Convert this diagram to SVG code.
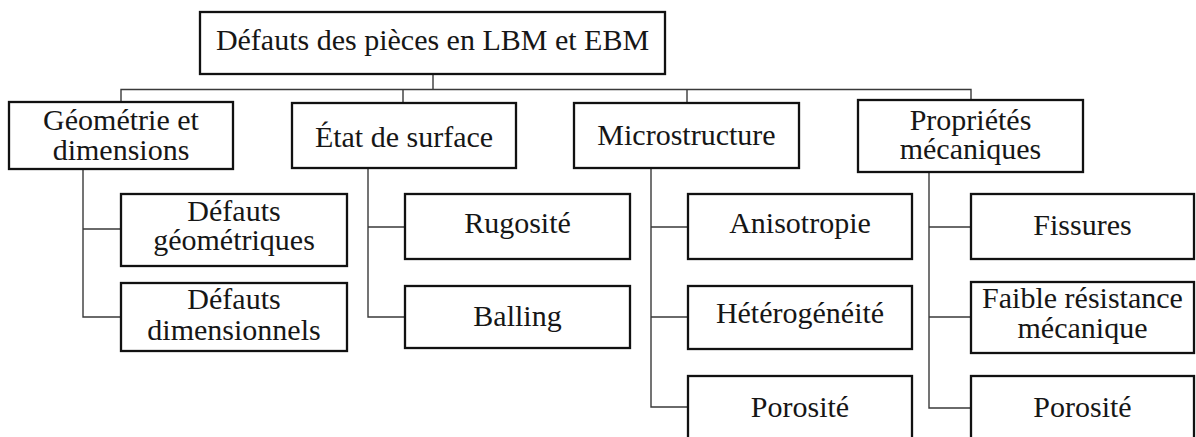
<svg xmlns="http://www.w3.org/2000/svg" width="1196" height="437" viewBox="0 0 1196 437">
<style>
rect.box{fill:#fff;stroke:#111;stroke-width:2.3}
text{font-size:30px;fill:#161616;text-anchor:middle}
.conn path{fill:none;stroke:#3a3a3a;stroke-width:1.4}
</style>
<rect width="1196" height="437" fill="#fff"/>
<g class="conn" id="connectors">
<path d="M433 74V89.5M121 102V89.5H971V100M403 89.5V103M687 89.5V103"/>
<path d="M83 169V317H121M83 229H121"/>
<path d="M368 168V317H405M368 227H405"/>
<path d="M651 168V407H688M651 227H688M651 317H688"/>
<path d="M929 172V408H971M929 227H971M929 317H971"/>
</g>
<g id="nodes">
<g id="root"><rect class="box" x="200" y="12" width="465" height="62"/><text font-family="Times New Roman" x="432.5" y="50">Défauts des pièces en LBM et EBM</text></g>
<g id="geometrie"><rect class="box" x="9" y="102" width="224" height="67"/><text font-family="Times New Roman" x="121" y="130">Géométrie et</text><text font-family="Times New Roman" x="121" y="160">dimensions</text></g>
<g id="etat"><rect class="box" x="292" y="103" width="224" height="65"/><text font-family="Times New Roman" x="404" y="147">État de surface</text></g>
<g id="microstructure"><rect class="box" x="574" y="103" width="225" height="65"/><text font-family="Times New Roman" x="686.5" y="145">Microstructure</text></g>
<g id="proprietes"><rect class="box" x="858" y="100" width="225" height="72"/><text font-family="Times New Roman" x="970.5" y="130">Propriétés</text><text font-family="Times New Roman" x="970.5" y="159">mécaniques</text></g>
<g id="defauts-geo"><rect class="box" x="121" y="194" width="226" height="72"/><text font-family="Times New Roman" x="234" y="221">Défauts</text><text font-family="Times New Roman" x="234" y="250">géométriques</text></g>
<g id="defauts-dim"><rect class="box" x="121" y="283" width="226" height="68"/><text font-family="Times New Roman" x="234" y="309">Défauts</text><text font-family="Times New Roman" x="234" y="340">dimensionnels</text></g>
<g id="rugosite"><rect class="box" x="405" y="194" width="225" height="65"/><text font-family="Times New Roman" x="517.5" y="233">Rugosité</text></g>
<g id="balling"><rect class="box" x="405" y="286" width="225" height="62"/><text font-family="Times New Roman" x="517.5" y="326">Balling</text></g>
<g id="anisotropie"><rect class="box" x="688" y="194" width="224" height="65"/><text font-family="Times New Roman" x="800" y="233">Anisotropie</text></g>
<g id="heterogeneite"><rect class="box" x="688" y="286" width="224" height="63"/><text font-family="Times New Roman" x="800" y="323">Hétérogénéité</text></g>
<g id="porosite-micro"><rect class="box" x="688" y="376" width="224" height="66"/><text font-family="Times New Roman" x="800" y="417">Porosité</text></g>
<g id="fissures"><rect class="box" x="971" y="194" width="223" height="65"/><text font-family="Times New Roman" x="1082.5" y="235">Fissures</text></g>
<g id="faible"><rect class="box" x="971" y="282" width="223" height="71"/><text font-family="Times New Roman" x="1082.5" y="308">Faible résistance</text><text font-family="Times New Roman" x="1082.5" y="338">mécanique</text></g>
<g id="porosite-meca"><rect class="box" x="971" y="376" width="223" height="66"/><text font-family="Times New Roman" x="1082.5" y="417">Porosité</text></g>
</g>
</svg>
